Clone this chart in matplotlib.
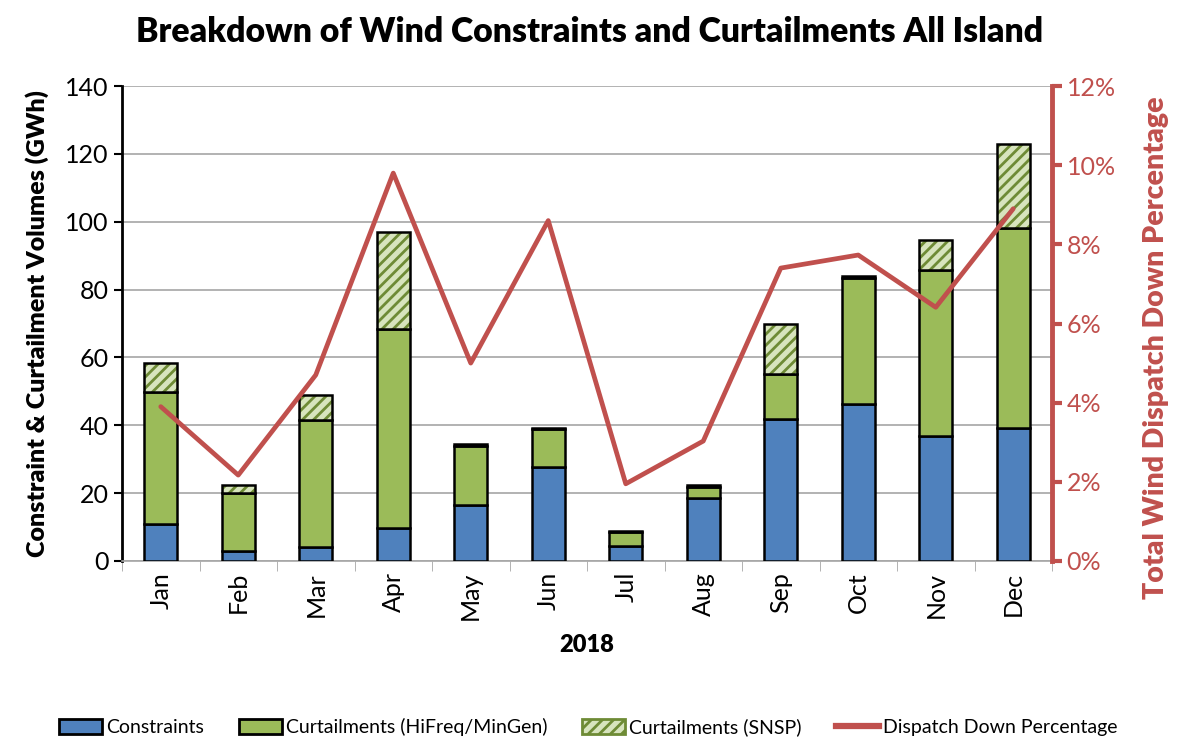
import numpy as np
import matplotlib.pyplot as plt
from matplotlib.patches import Patch
from matplotlib.lines import Line2D
from matplotlib.ticker import FuncFormatter, MultipleLocator

plt.rcParams['font.family'] = ['Lato', 'DejaVu Sans']
plt.rcParams['hatch.linewidth'] = 2.0

months = ["Jan", "Feb", "Mar", "Apr", "May", "Jun",
          "Jul", "Aug", "Sep", "Oct", "Nov", "Dec"]
constraints = [11, 3, 4.2, 9.7, 16.5, 27.7, 4.4, 18.6, 42, 46.3, 36.8, 39.2]
hifreq_mingen = [38.8, 17, 37.4, 58.7, 17.5, 11.3, 4.1, 3.2, 13, 37.1, 49, 58.9]
snsp = [8.6, 2.4, 7.4, 28.6, 0.5, 0.2, 0.2, 0.6, 15, 0.6, 8.8, 24.8]
dispatch_down_pct = [3.9, 2.17, 4.7, 9.8, 5.0, 8.6, 1.95, 3.03, 7.4, 7.73, 6.41, 8.9]

blue = "#4F81BD"
green = "#9BBB59"
light_green = "#D7E4BD"
hatch_green = "#6E8B35"
red = "#C0504D"

fig = plt.figure(figsize=(11.77, 7.37), dpi=100)
ax = fig.add_axes([122 / 1177, 1 - 561 / 737, 930 / 1177, 475 / 737])
x = np.arange(len(months))
w = 0.42

c = np.array(constraints)
h = np.array(hifreq_mingen)
s = np.array(snsp)

ax.bar(x, c, w, color=blue, edgecolor="black", linewidth=1.8, zorder=3)
ax.bar(x, h, w, bottom=c, color=green, edgecolor="black", linewidth=1.8, zorder=3)
# hatch drawn in green, then black outline on top
ax.bar(x, s, w, bottom=c + h, color=light_green, edgecolor=hatch_green,
       hatch="///", linewidth=0, zorder=3)
ax.bar(x, s, w, bottom=c + h, color="none", edgecolor="black", linewidth=1.8, zorder=4)

ax.set_xlim(-0.5, 11.5)
ax.set_ylim(0, 140)
ax.yaxis.set_major_locator(MultipleLocator(20))
ax.grid(axis="y", color="#A6A6A6", linewidth=1.2, zorder=0)
ax.set_axisbelow(True)
ax.set_xticks(x)
ax.set_xticklabels(months, rotation=90, fontsize=18)
ax.set_xticks(np.arange(-0.5, 12, 1), minor=True)
ax.tick_params(axis="x", which="major", length=0, pad=8)
ax.tick_params(axis="x", which="minor", length=7, color="#A6A6A6")
ax.tick_params(axis="y", labelsize=18, length=6, width=1.5)
ax.spines["top"].set_visible(False)
ax.spines["right"].set_visible(False)
ax.spines["left"].set_linewidth(2)
ax.spines["bottom"].set_color("#A6A6A6")
ax.spines["bottom"].set_linewidth(1.2)
ax.set_ylabel("Constraint & Curtailment Volumes (GWh)", fontsize=18,
              fontweight="heavy", labelpad=12)
ax.set_xlabel("2018", fontsize=17, fontweight="heavy", labelpad=10)

ax2 = ax.twinx()
ax2.plot(x, dispatch_down_pct, color=red, linewidth=3.4, solid_capstyle="round", zorder=5)
ax2.set_ylim(0, 12)
ax2.yaxis.set_major_locator(MultipleLocator(2))
ax2.yaxis.set_major_formatter(FuncFormatter(lambda v, p: f"{v:.0f}%"))
ax2.tick_params(axis="y", colors=red, labelsize=18, length=7, width=3)
for sp in ["top", "left", "bottom"]:
    ax2.spines[sp].set_visible(False)
ax2.spines["right"].set_color(red)
ax2.spines["right"].set_linewidth(3.5)
ax2.set_ylabel("Total Wind Dispatch Down Percentage", fontsize=20.5,
               fontweight="heavy", color=red)
ax2.yaxis.set_label_coords(1.098, 0.45)

fig.suptitle("Breakdown of Wind Constraints and Curtailments All Island",
             fontsize=24.3, fontweight="heavy", x=590 / 1177, y=1 - 32 / 737, va="center")

handles = [
    Patch(facecolor=blue, edgecolor="black", linewidth=2),
    Patch(facecolor=green, edgecolor="black", linewidth=2),
    Patch(facecolor=light_green, edgecolor=hatch_green, hatch="///", linewidth=2),
    Line2D([0], [0], color=red, linewidth=4.5),
]
labels = ["Constraints", "Curtailments (HiFreq/MinGen)", "Curtailments (SNSP)",
          "Dispatch Down Percentage"]
fig.legend(handles, labels, loc="center", bbox_to_anchor=(0.5, 1 - 727 / 737),
           ncol=4, frameon=False, fontsize=14, handlelength=2.2, handleheight=0.8,
           columnspacing=1.8, handletextpad=0.2)

fig.savefig("out.png", dpi=100)
